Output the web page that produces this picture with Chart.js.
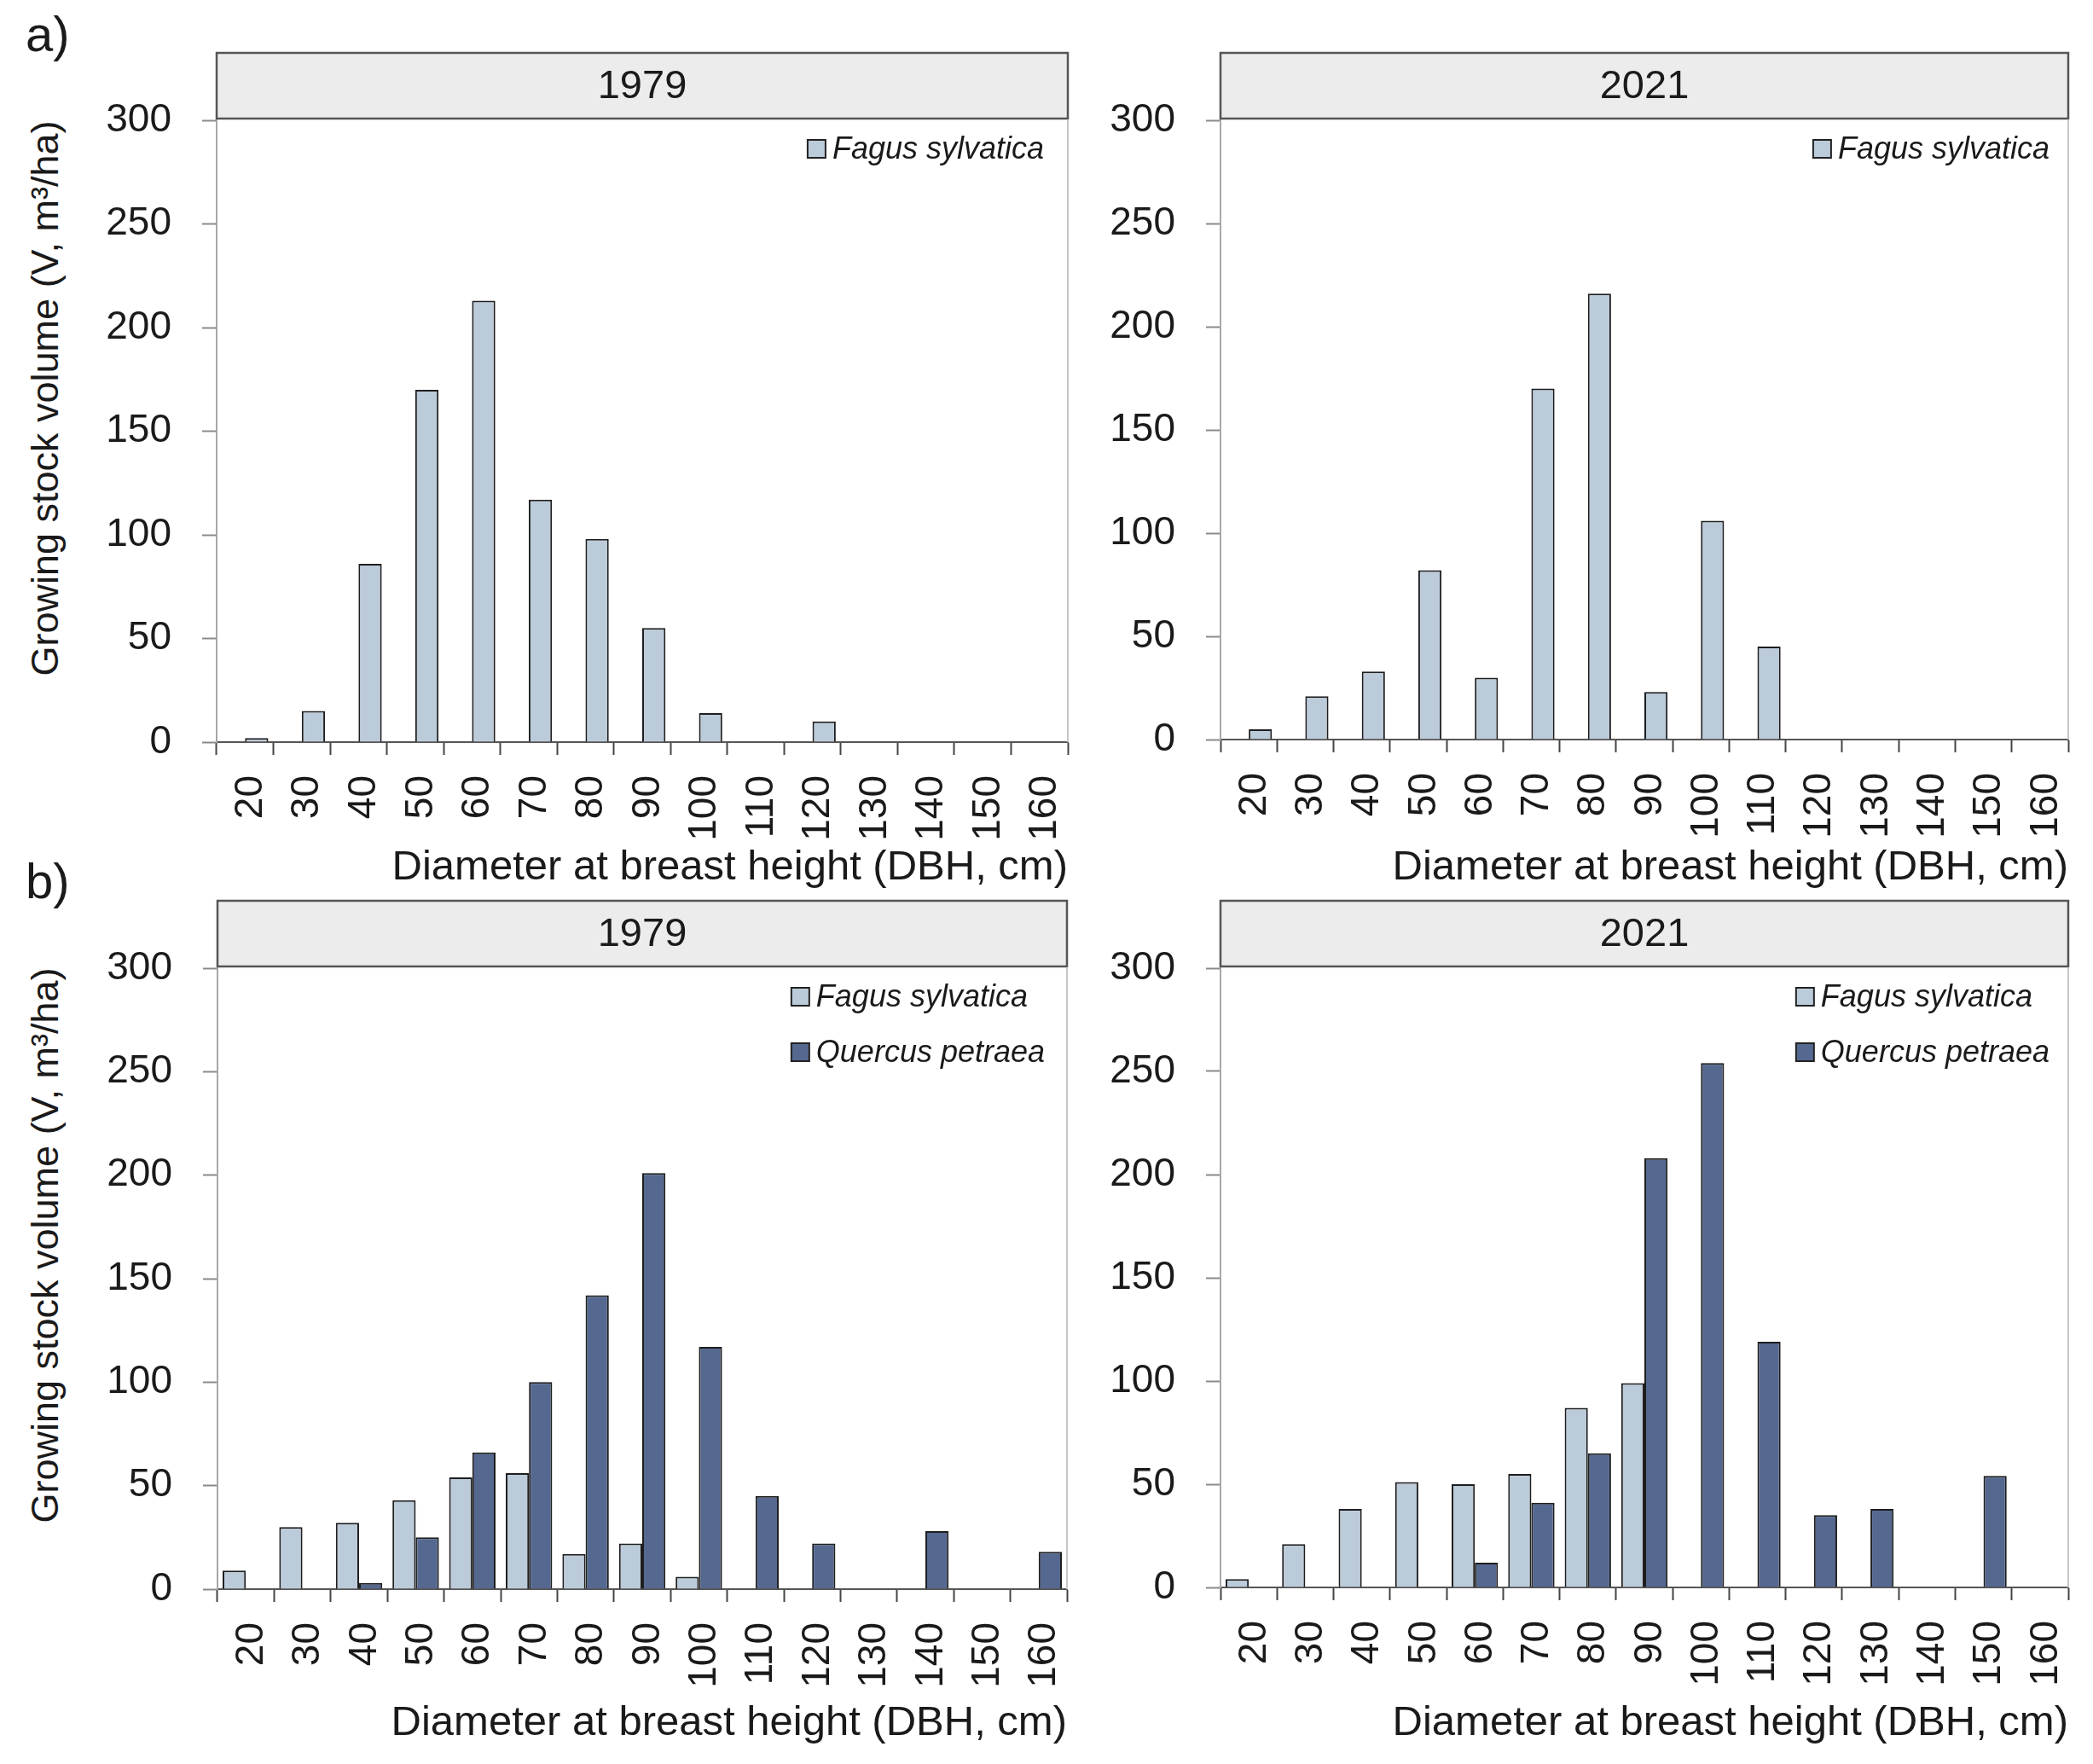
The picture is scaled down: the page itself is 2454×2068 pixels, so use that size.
<!DOCTYPE html>
<html>
<head>
<meta charset="utf-8">
<title>Growing stock volume by DBH class</title>
<script src="https://cdn.jsdelivr.net/npm/chart.js@4.4.1/dist/chart.umd.min.js"></script>
<style>
  body { margin: 0; background: #fff; }
  #page { position: relative; width: 2454px; height: 2068px; background: #fff;
          font-family: "Liberation Sans", Arial, sans-serif; color: #1a1a1a; }
  canvas { position: absolute; }
  .tag { position: absolute; font-size: 58px; line-height: 1; }
  .ytitle { position: absolute; font-size: 45px; line-height: 1; white-space: nowrap;
            transform: translate(-50%, -50%) rotate(-90deg); }
</style>
</head>
<body>
<div id="page">
  <div class="tag" style="left:30px; top:11px">a)</div>
  <div class="tag" style="left:30px; top:1004px">b)</div>
  <div class="ytitle" style="left:52px; top:467px">Growing stock volume (V, m³/ha)</div>
  <div class="ytitle" style="left:52px; top:1460px">Growing stock volume (V, m³/ha)</div>
  <canvas id="a1979" width="1300" height="1048" style="left:0; top:0"></canvas>
  <canvas id="a2021" width="1154" height="1048" style="left:1300px; top:0"></canvas>
  <canvas id="b1979" width="1300" height="1020" style="left:0; top:1048px"></canvas>
  <canvas id="b2021" width="1154" height="1020" style="left:1300px; top:1048px"></canvas>
</div>
<script>
// DBH classes (cm)
const dbhLabels = ['20', '30', '40', '50', '60', '70', '80', '90', '100', '110', '120', '130', '140', '150', '160'];

// a) growing stock volume, m3/ha
const fagus1979a = [2, 15, 86, 170, 213, 117, 98, 55, 14, null, 10, null, null, null, null];
const fagus2021a = [5, 21, 33, 82, 30, 170, 216, 23, 106, 45, null, null, null, null, null];

// b) growing stock volume, m3/ha
const fagus1979b   = [9, 30, 32, 43, 54, 56, 17, 22, 6, null, null, null, null, null, null];
const quercus1979b = [null, null, 3, 25, 66, 100, 142, 201, 117, 45, 22, null, 28, null, 18];
const fagus2021b   = [4, 21, 38, 51, 50, 55, 87, 99, null, null, null, null, null, null, null];
const quercus2021b = [null, null, null, null, 12, 41, 65, 208, 254, 119, 35, 38, null, 54, null];

const light = '#bccbda';
const dark = '#556890';
const ink = '#1a1a1a';

Chart.defaults.font.family = '"Liberation Sans", Arial, sans-serif';
Chart.defaults.color = ink;

// strip header, right frame line and an in-plot legend
const panelDecor = {
    id: 'panelDecor',
    afterDraw(chart, args, opts) {
        const { ctx, chartArea: a } = chart;
        ctx.save();

        ctx.strokeStyle = '#c6c6c6';
        ctx.lineWidth = 2;
        ctx.beginPath();
        ctx.moveTo(a.right, a.top);
        ctx.lineTo(a.right, a.bottom);
        ctx.stroke();

        const y0 = a.top - 79, h = 77;
        ctx.fillStyle = '#ececec';
        ctx.fillRect(a.left, y0, a.right - a.left, h);
        ctx.strokeStyle = '#555';
        ctx.lineWidth = 2.5;
        ctx.strokeRect(a.left, y0, a.right - a.left, h);
        ctx.fillStyle = ink;
        ctx.font = '47px "Liberation Sans", Arial, sans-serif';
        ctx.textAlign = 'center';
        ctx.textBaseline = 'middle';
        ctx.fillText(opts.title, (a.left + a.right) / 2, y0 + h / 2 + 2);

        const items = chart.data.datasets.filter(d => d.label);
        ctx.font = 'italic 36px "Liberation Sans", Arial, sans-serif';
        const tw = Math.max(...items.map(d => ctx.measureText(d.label).width));
        const textX = a.right - opts.legendMargin - tw;
        const boxX = textX - 29;
        ctx.textAlign = 'left';
        items.forEach((d, i) => {
            const cy = a.top + 34 + i * 65;
            ctx.fillStyle = d.backgroundColor;
            ctx.fillRect(boxX, cy - 11, 21, 21);
            ctx.strokeStyle = '#222';
            ctx.lineWidth = 2;
            ctx.strokeRect(boxX, cy - 11, 21, 21);
            ctx.fillStyle = ink;
            ctx.fillText(d.label, textX, cy + 1);
        });
        ctx.restore();
    }
};

function bars(label, data, color) {
    return {
        label: label,
        data: data,
        backgroundColor: color,
        borderColor: '#1e1e1e',
        borderWidth: 2
    };
}

function makePanel(id, title, datasets, pad, yWidth, xHeight, titlePad, legendMargin) {
    new Chart(document.getElementById(id), {
        type: 'bar',
        data: { labels: dbhLabels, datasets: datasets },
        plugins: [panelDecor],
        options: {
            responsive: false,
            animation: false,
            devicePixelRatio: 1,
            layout: { padding: pad, autoPadding: false },
            datasets: { bar: { categoryPercentage: 0.82, barPercentage: 1 } },
            plugins: {
                legend: { display: false },
                tooltip: { enabled: false },
                panelDecor: { title: title, legendMargin: legendMargin }
            },
            scales: {
                x: {
                    grid: { offset: true, drawOnChartArea: false, tickLength: 15, tickColor: '#444', tickWidth: 2 },
                    border: { color: '#555', width: 2 },
                    ticks: { autoSkip: false, minRotation: 90, maxRotation: 90, padding: 24, labelOffset: 7, font: { size: 46 } },
                    title: {
                        display: true,
                        text: 'Diameter at breast height (DBH, cm)',
                        align: 'end',
                        font: { size: 49, lineHeight: 1 },
                        padding: { top: 0, bottom: titlePad }
                    },
                    afterFit: s => {
                        s.height = xHeight;
                        // keep the plot edges where the layout padding puts them
                        s.paddingLeft = 0;
                        s.paddingRight = 0;
                    }
                },
                y: {
                    min: 0,
                    max: 300,
                    ticks: { stepSize: 50, padding: 36, font: { size: 46 } },
                    grid: { drawOnChartArea: false, tickLength: 17, tickColor: '#8a8a8a', tickWidth: 2 },
                    border: { color: '#a8a8a8', width: 2 },
                    afterFit: s => { s.width = yWidth; }
                }
            }
        }
    });
}

const emptySlot = dbhLabels.map(() => null);

makePanel('a1979', '1979',
    [bars('', emptySlot, light), bars('Fagus sylvatica', fagus1979a, light)],
    { left: 0, right: 48, top: 141, bottom: 0 }, 254, 178, 6, 28);

makePanel('a2021', '2021',
    [bars('', emptySlot, light), bars('Fagus sylvatica', fagus2021a, light)],
    { left: 0, right: 29, top: 141, bottom: 0 }, 131, 181, 6, 22);

makePanel('b1979', '1979',
    [bars('Fagus sylvatica', fagus1979b, light), bars('Quercus petraea', quercus1979b, dark)],
    { left: 0, right: 49, top: 87, bottom: 0 }, 255, 205, 23, 26);

makePanel('b2021', '2021',
    [bars('Fagus sylvatica', fagus2021b, light), bars('Quercus petraea', quercus2021b, dark)],
    { left: 0, right: 29, top: 87, bottom: 0 }, 131, 207, 23, 22);
</script>
</body>
</html>
